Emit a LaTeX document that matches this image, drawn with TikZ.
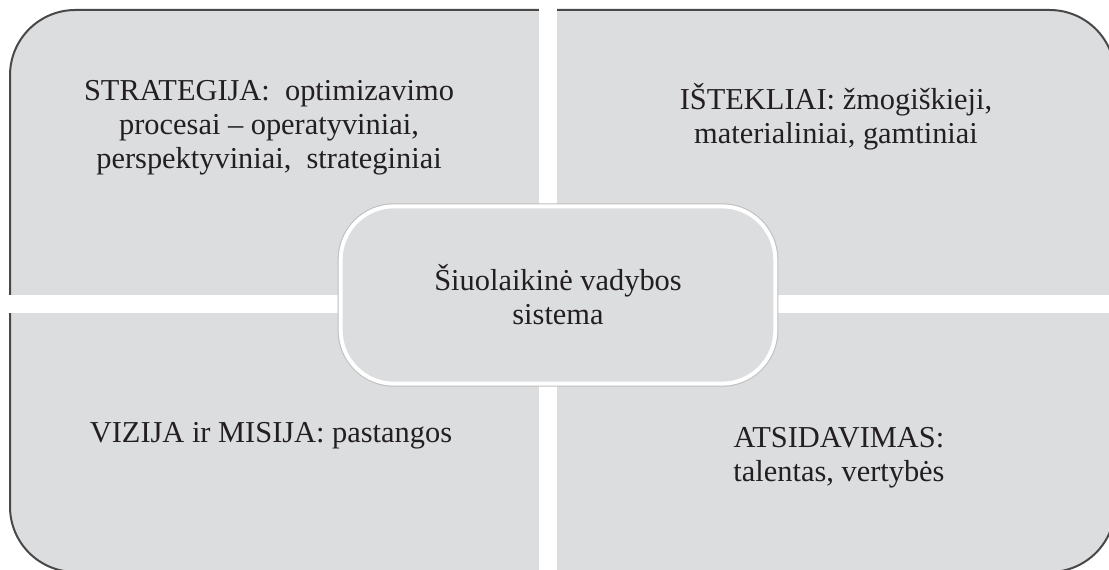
\documentclass[tikz,border=0pt]{standalone}
\usepackage{fontspec}
\setmainfont{Liberation Serif}
\usetikzlibrary{positioning}
\definecolor{panelgray}{RGB}{220,221,223}
\definecolor{edgegray}{RGB}{72,72,72}
\definecolor{inkblack}{RGB}{35,31,32}

\begin{document}
\begin{tikzpicture}[x=0.75pt,y=-0.75pt,
  qtext/.style={align=center, text=inkblack, font=\fontsize{22.8}{25.5}\selectfont},
  hub/.style={rectangle, rounded corners=40pt, fill=panelgray, draw=white, line width=3pt,
    preaction={draw=black!25, line width=4.6pt},
    minimum width=326pt, minimum height=133pt, qtext}]

\useasboundingbox (0,0) rectangle (1109,570);
\clip (0,0) rectangle (1109,570);

% Outer panel, cut in four by white gaps
\draw[fill=panelgray, draw=edgegray, line width=1.5pt, rounded corners=49pt] (10,10) rectangle (1115,572);
\fill[white] (539,0) rectangle (557,570);
\fill[white] (0,295) rectangle (1109,313);

% Quadrant texts
\node[qtext] (strategy) at (269,128) {STRATEGIJA:\ \ optimizavimo\\procesai – operatyviniai,\\perspektyviniai,\ \ strateginiai};
\node[qtext] (resources) at (836,117) {IŠTEKLIAI: žmogiškieji,\\materialiniai, gamtiniai};
\node[qtext] (vision) at (271,436) {VIZIJA ir MISIJA: pastangos};
\node[qtext] (devotion) at (839,458) {ATSIDAVIMAS:\\talentas, vertybės};

% Centre
\node[hub] (core) at (558,295) {Šiuolaikinė vadybos\\sistema};

\end{tikzpicture}
\end{document}
